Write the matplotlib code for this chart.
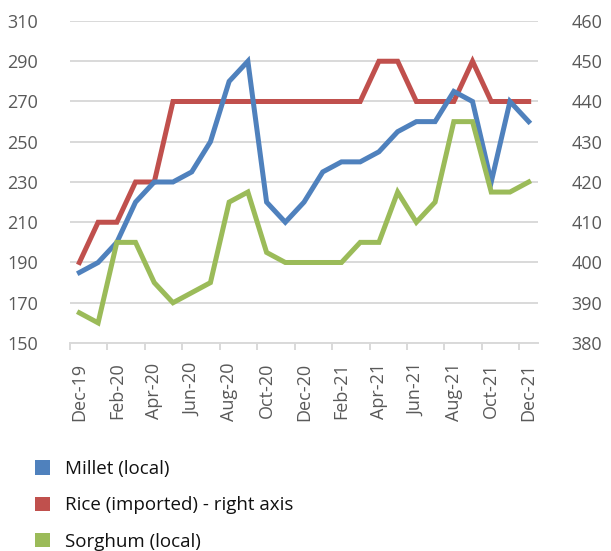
import matplotlib
matplotlib.use("Agg")
import matplotlib.pyplot as plt
from matplotlib.patches import Patch

months = ["Dec-19", "Jan-20", "Feb-20", "Mar-20", "Apr-20", "May-20", "Jun-20",
          "Jul-20", "Aug-20", "Sep-20", "Oct-20", "Nov-20", "Dec-20", "Jan-21",
          "Feb-21", "Mar-21", "Apr-21", "May-21", "Jun-21", "Jul-21", "Aug-21",
          "Sep-21", "Oct-21", "Nov-21", "Dec-21"]
millet = [185, 190, 200, 220, 230, 230, 235, 250, 280, 290, 220, 210, 220,
          235, 240, 240, 245, 255, 260, 260, 275, 270, 230, 270, 260]
rice = [400, 410, 410, 420, 420, 440, 440, 440, 440, 440, 440, 440, 440,
        440, 440, 440, 450, 450, 440, 440, 440, 450, 440, 440, 440]
sorghum = [165, 160, 200, 200, 180, 170, 175, 180, 220, 225, 195, 190, 190,
           190, 190, 200, 200, 225, 210, 220, 260, 260, 225, 225, 230]

series_labels = ["Millet (local)", "Rice (imported) - right axis", "Sorghum (local)"]
c_blue, c_red, c_green = "#4F81BD", "#C0504D", "#9BBB59"
grid_c = "#D9D9D9"
txt_c = "#595959"

plt.rcParams['font.family'] = ['Open Sans', 'DejaVu Sans']

fig = plt.figure(figsize=(6.11, 5.51), dpi=100)
ax = fig.add_axes([0.1146, 0.3775, 0.7660, 0.5844])
ax2 = ax.twinx()

x = list(range(len(months)))
ax.plot(x, millet, color=c_blue, lw=3.6, solid_joinstyle='miter', zorder=3)
ax.plot(x, sorghum, color=c_green, lw=3.6, solid_joinstyle='miter', zorder=3)
ax2.plot(x, rice, color=c_red, lw=3.6, solid_joinstyle='miter', zorder=3)

ax.set_zorder(ax2.get_zorder() + 1)
ax.patch.set_visible(False)

ax.set_ylim(150, 310)
ax.set_yticks(list(range(150, 311, 20)))
ax2.set_ylim(380, 460)
ax2.set_yticks(list(range(380, 461, 10)))
ax.set_xlim(-0.5, len(months) - 0.5)

ax.set_xticks(x[::2])
ax.set_xticklabels(months[::2], rotation=90)
ax.set_xticks([i - 0.5 for i in range(0, len(months) + 1, 2)], minor=True)

for a in (ax, ax2):
    for s in a.spines.values():
        s.set_visible(False)
ax.spines['bottom'].set_visible(True)
ax.spines['bottom'].set_color(grid_c)
ax.spines['bottom'].set_linewidth(1.4)

ax.grid(False)
ax2.yaxis.grid(True, color=grid_c, lw=1.4, zorder=0)
ax2.set_axisbelow(True)

ax.tick_params(axis='y', length=0, pad=23, labelsize=13, labelcolor=txt_c)
ax2.tick_params(axis='y', length=0, pad=24, labelsize=13, labelcolor=txt_c)
ax.tick_params(axis='x', which='major', length=0, pad=14, labelsize=13, labelcolor=txt_c)
ax.tick_params(axis='x', which='minor', length=5, width=1.4, color=grid_c)

handles = [Patch(facecolor=c, edgecolor='none') for c in (c_blue, c_red, c_green)]
fig.legend(handles, series_labels, loc='upper left', bbox_to_anchor=(0.057, 0.165),
           frameon=False, fontsize=13.5, labelcolor='#111111', handlelength=0.8,
           handleheight=0.8, handletextpad=0.8, labelspacing=0.98,
           borderaxespad=0, borderpad=0)

fig.savefig("out.png", dpi=100, facecolor='white')
